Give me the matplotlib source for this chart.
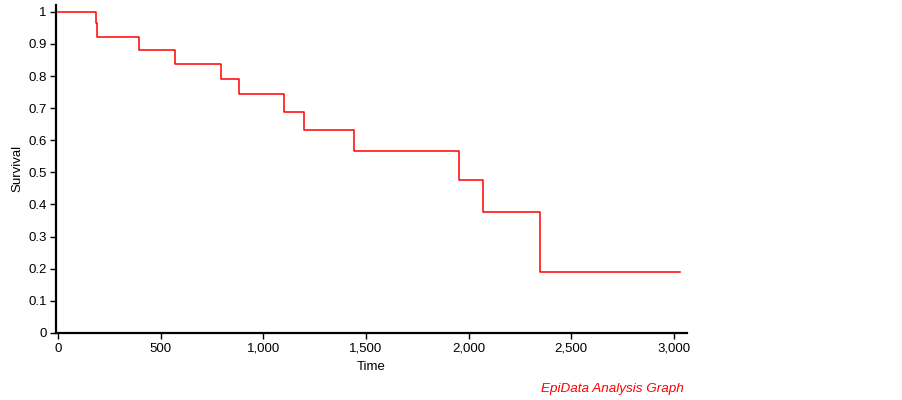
import numpy as np
import matplotlib.pyplot as plt
from matplotlib.ticker import FuncFormatter

plt.rcParams['font.family'] = ['Liberation Sans', 'DejaVu Sans']

# Kaplan-Meier step values
times = [0, 185, 189, 395, 570, 792, 880, 1102, 1197, 1442, 1952, 2070, 2349, 3030]
survival = [1.0, 0.964, 0.922, 0.881, 0.837, 0.790, 0.743, 0.687, 0.631,
            0.567, 0.475, 0.376, 0.189, 0.189]

x_ticks = [0, 500, 1000, 1500, 2000, 2500, 3000]
y_ticks = [0, 0.1, 0.2, 0.3, 0.4, 0.5, 0.6, 0.7, 0.8, 0.9, 1]

fig = plt.figure(figsize=(9.03, 4.0), dpi=100)
ax = fig.add_axes([0.0623, 0.168, 0.6985, 0.82])

ax.step(times, survival, where='post', color='#ff0000', linewidth=1.1)

ax.set_xlim(-8, 3064)
ax.set_ylim(0, 1.022)
ax.set_xticks(x_ticks)
ax.set_yticks(y_ticks)
ax.xaxis.set_major_formatter(FuncFormatter(lambda v, p: "{:,}".format(int(v))))
ax.yaxis.set_major_formatter(FuncFormatter(lambda v, p: "{:g}".format(round(v, 1))))

for s in ['top', 'right']:
    ax.spines[s].set_visible(False)
for s in ['left', 'bottom']:
    ax.spines[s].set_linewidth(1.6)
ax.tick_params(axis='both', direction='out', length=4, width=1, labelsize=9.5, pad=3)

ax.set_xlabel("Time", fontsize=9.5, labelpad=5)
ax.set_ylabel("Survival", fontsize=9.5, labelpad=3)

fig.text(0.757, 0.012, "EpiData Analysis Graph", color='#ff0000', fontsize=9.7,
         style='italic', ha='right', va='bottom')

fig.savefig("out.png", dpi=100)
